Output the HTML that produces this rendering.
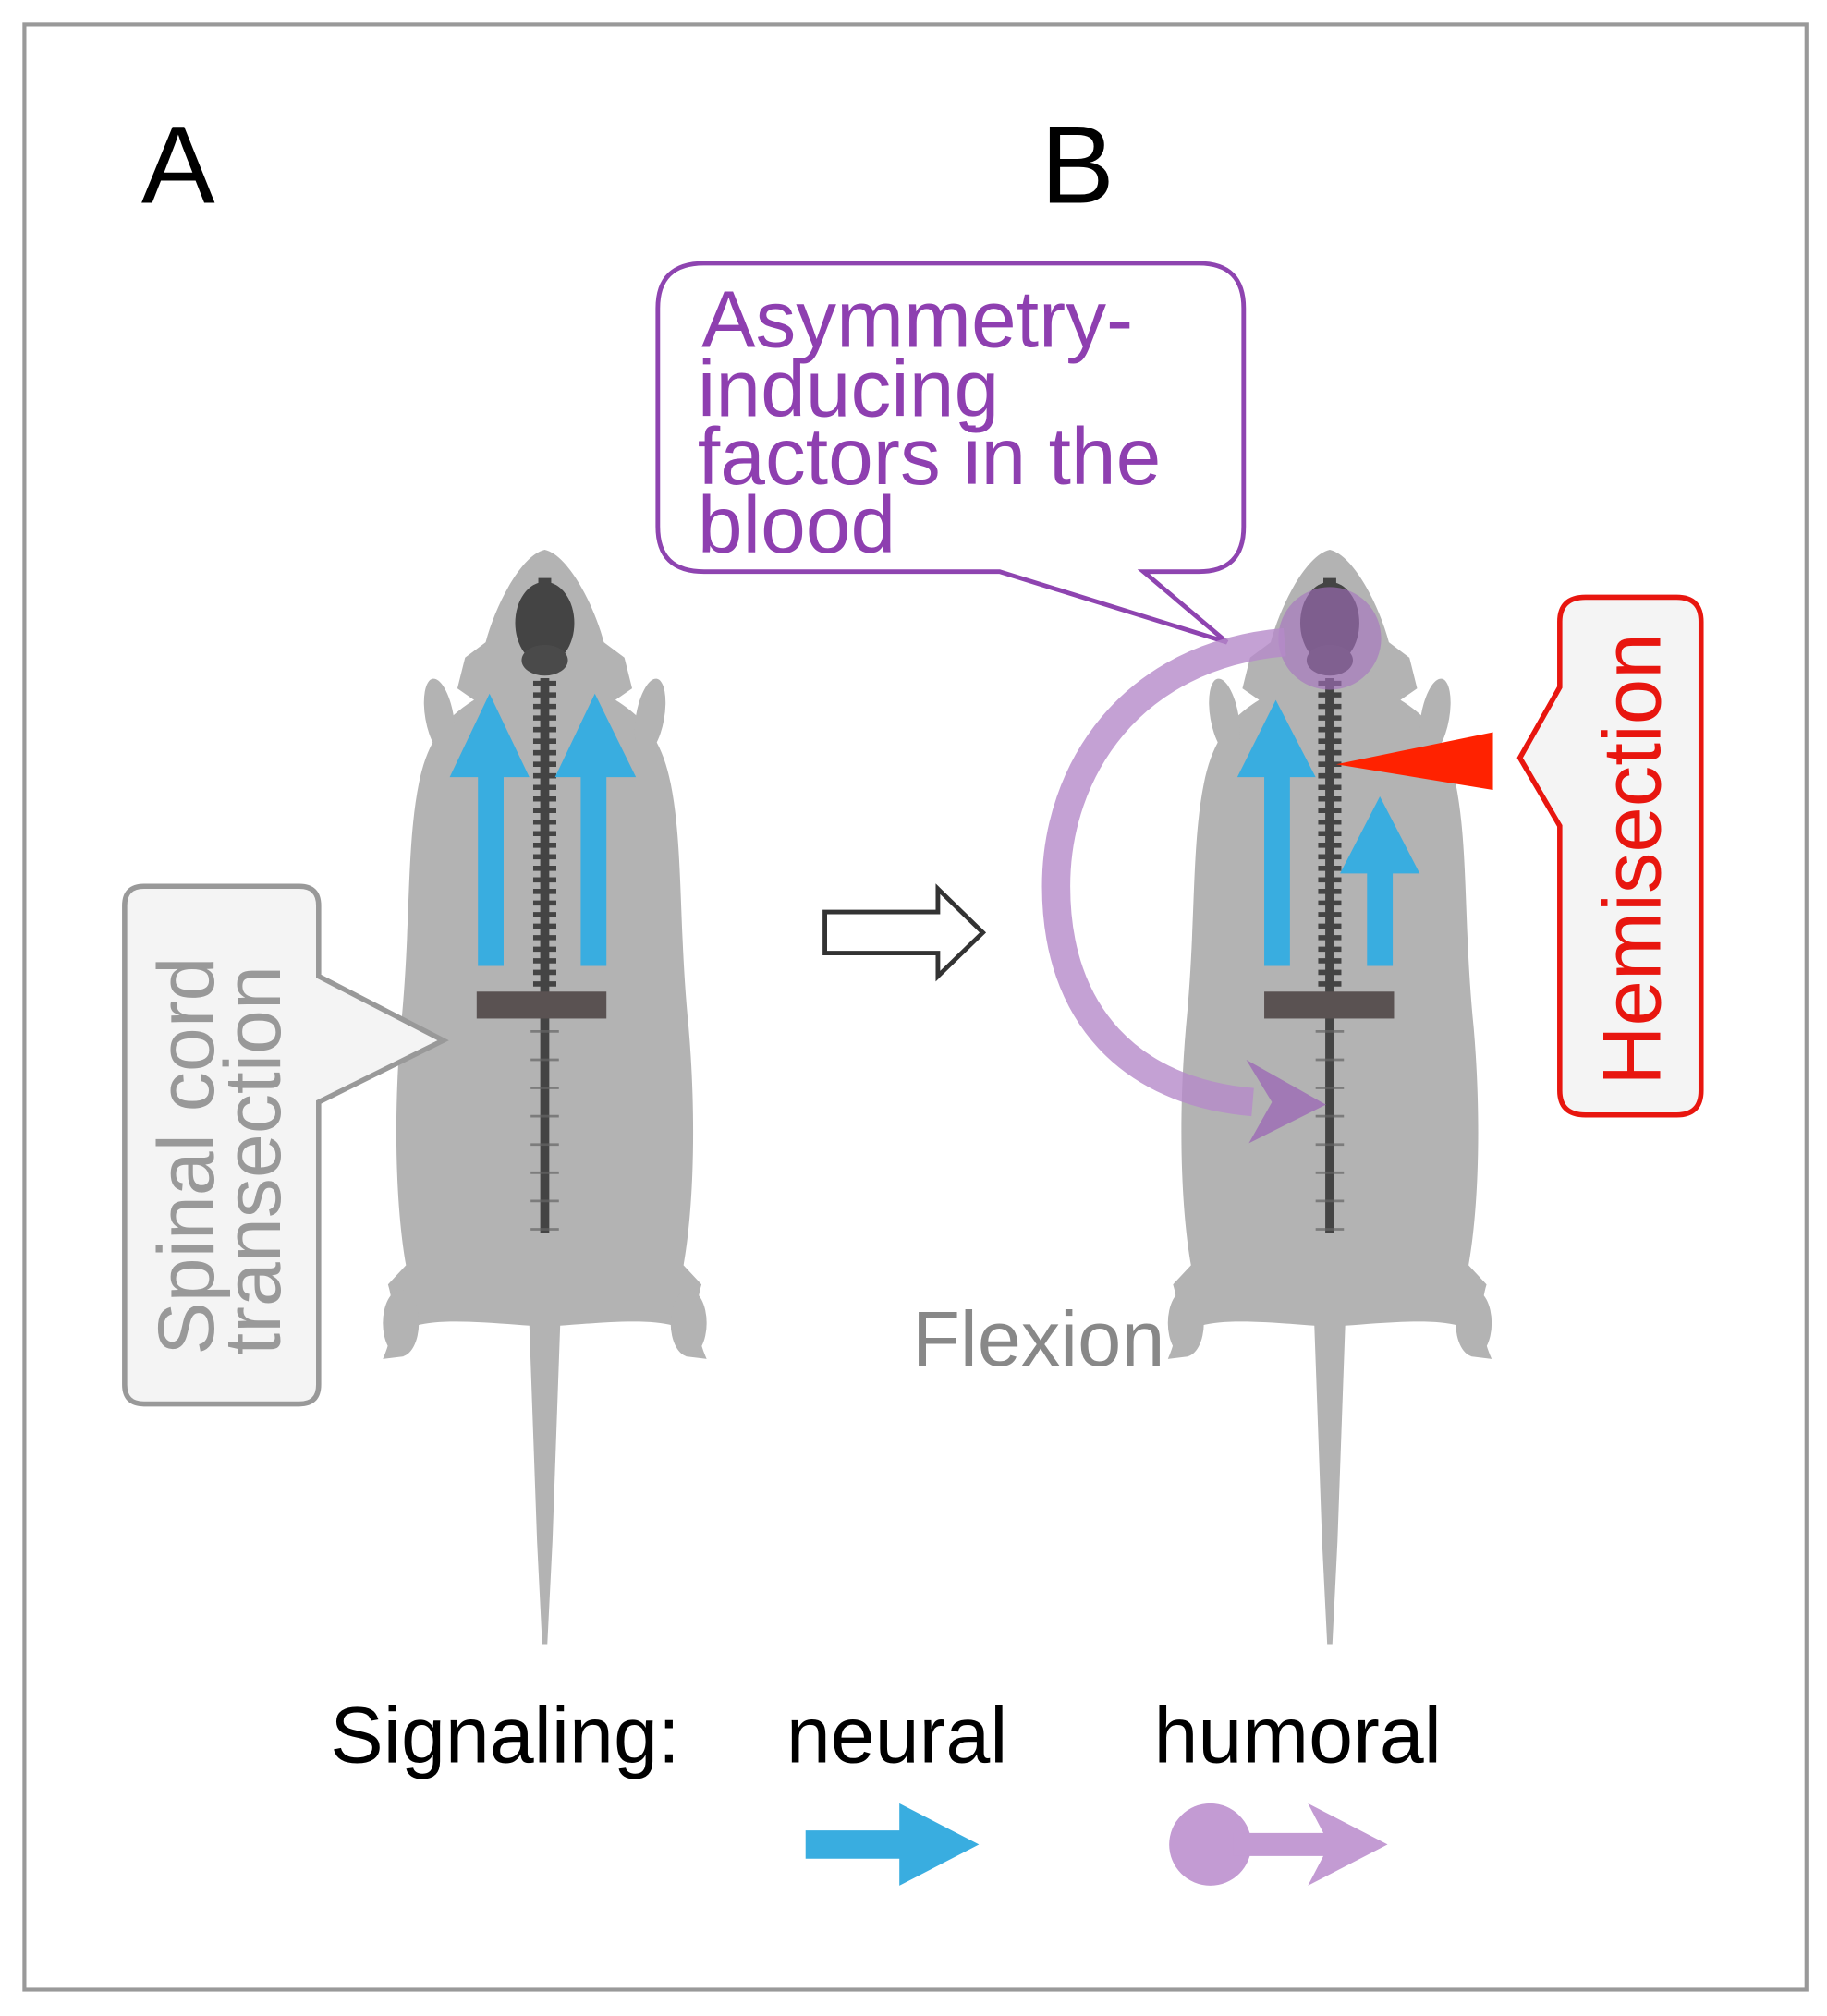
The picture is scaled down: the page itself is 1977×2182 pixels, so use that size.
<!DOCTYPE html>
<html><head><meta charset="utf-8"><style>
html,body{margin:0;padding:0;background:#fff}
svg{display:block}
text{font-family:"Liberation Sans",Arial,sans-serif}
</style></head><body>
<svg width="1977" height="2182" viewBox="0 0 1422 1569.5" preserveAspectRatio="none" xmlns="http://www.w3.org/2000/svg">
<defs>
<g id="mouse">
<path fill="#b3b3b3" d="M0,428 C18,432 38,470 46,500 L62,512 L68,536 L55,545 C80,560 92,580 98,610 C108,660 104,720 112,800 C118,870 116,940 108,985 L122,1000 C116,1020 118,1040 126,1058 L110,1056 L100,1032 C80,1026 40,1030 12,1032 L6,1200 L2,1280 L-2,1280 L-6,1200 L-12,1032 C-40,1030 -80,1026 -100,1032 L-110,1056 L-126,1058 C-118,1040 -116,1020 -122,1000 L-108,985 C-116,940 -118,870 -112,800 C-104,720 -108,660 -98,610 C-92,580 -80,560 -55,545 L-68,536 L-62,512 L-46,500 C-38,470 -18,432 0,428 Z"/>
<ellipse cx="-82" cy="558" rx="11" ry="30" fill="#b3b3b3" transform="rotate(-10 -82 558)"/>
<ellipse cx="82" cy="558" rx="11" ry="30" fill="#b3b3b3" transform="rotate(10 82 558)"/>
<ellipse cx="-112" cy="1030" rx="14" ry="26" fill="#b3b3b3"/>
<ellipse cx="112" cy="1030" rx="14" ry="26" fill="#b3b3b3"/>
<path d="M0,528 L0,960" stroke="#444" stroke-width="7"/>
<path d="M0,530 L0,780" stroke="#444" stroke-width="18" stroke-dasharray="4 5"/>
<path d="M0,780 L0,960" stroke="#666" stroke-width="22" stroke-dasharray="2 20" opacity="0.7"/>
<ellipse cx="0" cy="485" rx="23" ry="32" fill="#444"/>
<ellipse cx="0" cy="514" rx="18" ry="12" fill="#4a4a4a"/>
<rect x="-5" y="450" width="10" height="8" fill="#444"/>
</g>
</defs>
<rect x="19" y="19" width="1387" height="1530" fill="#fff" stroke="#999" stroke-width="3"/>
<text x="110" y="158" font-size="86">A</text>
<text x="810" y="158" font-size="86">B</text>

<use href="#mouse" transform="translate(424,0)"/>
<use href="#mouse" transform="translate(1035,0)"/>

<g fill="#39ade0">
<path d="M372,752 L372,605 L350,605 L381,540 L412,605 L392,605 L392,752 Z"/>
<path d="M452,752 L452,605 L432,605 L463,540 L495,605 L472,605 L472,752 Z"/>
<path d="M984,752 L984,605 L963,605 L993,545 L1024,605 L1004,605 L1004,752 Z"/>
<path d="M1064,752 L1064,680 L1043,680 L1074,620 L1105,680 L1084,680 L1084,752 Z"/>
<path d="M627,1425 L700,1425 L700,1404 L762,1436 L700,1468 L700,1447 L627,1447 Z"/>
</g>
<rect x="371" y="772" width="101" height="21" fill="#5a5252"/>
<rect x="984" y="772" width="101" height="21" fill="#5a5252"/>

<path d="M112,690 L233,690 Q248,690 248,705 L248,760 L345,810 L248,858 L248,1078 Q248,1093 233,1093 L112,1093 Q97,1093 97,1078 L97,705 Q97,690 112,690 Z" fill="#f4f4f4" stroke="#999" stroke-width="4"/>
<g transform="translate(166,1055) rotate(-90)" fill="#999" font-size="62">
<text x="0" y="0">Spinal cord</text>
<text x="0" y="52">transection</text>
</g>

<path d="M642,710 L730,710 L730,692 L765,726 L730,760 L730,742 L642,742 Z" fill="#fff" stroke="#333" stroke-width="3.5"/>

<path d="M548,205 L933,205 Q968,205 968,240 L968,410 Q968,445 933,445 L890,445 L955,500 L778,445 L548,445 Q512,445 512,410 L512,240 Q512,205 548,205 Z" fill="#fff" stroke="#8e44b0" stroke-width="3.5"/>
<g fill="#8e3fb0" font-size="63">
<text x="546" y="270">Asymmetry-</text>
<text x="543" y="324">inducing</text>
<text x="543" y="377">factors in the</text>
<text x="543" y="430">blood</text>
</g>

<circle cx="1035" cy="497" r="40" fill="#a570c0" opacity="0.6"/>
<path d="M1000,500 C880,510 822,600 822,690 C822,790 880,850 975,858" fill="none" stroke="#b58ac9" stroke-width="22" opacity="0.8"/>
<path d="M970,825 L1032,860 L972,890 L990,858 Z" fill="#9e72b5" opacity="0.9"/>

<path d="M1040,595 L1162,570 L1162,615 Z" fill="#ff2200"/>
<path d="M1234,465 L1305,465 Q1324,465 1324,484 L1324,849 Q1324,868 1305,868 L1234,868 Q1214,868 1214,849 L1214,643 L1183,590 L1214,535 L1214,484 Q1214,465 1234,465 Z" fill="#f4f4f4" stroke="#e8160f" stroke-width="4"/>
<text transform="translate(1292,845) rotate(-90)" fill="#e8160f" font-size="64">Hemisection</text>

<text x="710" y="1063" fill="#888" font-size="61">Flexion</text>

<text x="257" y="1372" font-size="62">Signaling:</text>
<text x="612" y="1372" font-size="62">neural</text>
<text x="898" y="1372" font-size="62">humoral</text>
<g fill="#c39bd3">
<circle cx="942" cy="1436" r="32"/>
<path d="M960,1427 L1030,1427 L1018,1404 L1080,1436 L1018,1468 L1030,1445 L960,1445 Z"/>
</g>
</svg>
</body></html>
